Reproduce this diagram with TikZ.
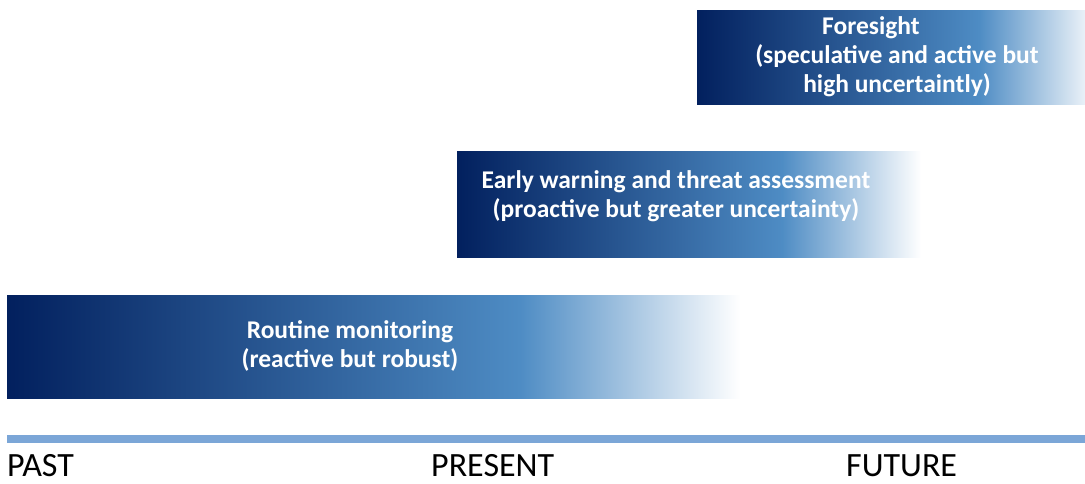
\documentclass[tikz,border=0pt]{standalone}
\usepackage{fontspec}
\setmainfont{Carlito}
\definecolor{navy}{RGB}{2,32,94}
\definecolor{steel}{RGB}{78,140,196}
\definecolor{timebar}{RGB}{123,166,215}
\pgfdeclarehorizontalshading{fade}{100bp}{color(0bp)=(navy); color(25bp)=(navy); color(60bp)=(steel); color(75bp)=(white); color(100bp)=(white)}
\tikzset{
  band/.style={rectangle, inner sep=0pt, shading=fade},
  bandtext/.style={text=white, align=center, font=\fontsize{25.5}{29}\selectfont\bfseries},
  era/.style={anchor=base west, inner sep=0pt, text depth=0pt, font=\fontsize{34}{40}\selectfont},
  timeline/.style={timebar, line width=8pt}
}
\begin{document}
\begin{tikzpicture}[x=1pt, y=-1pt]
            \useasboundingbox (0,0) rectangle (1085,483);
            % bands
            \node[band, minimum width=733pt, minimum height=103pt] (routine) at (373.5,346.5) {};
            \node[band, minimum width=464pt, minimum height=106pt] (early) at (689,204) {};
            \node[band, minimum width=403pt, minimum height=94pt] (foresight) at (898.5,57) {};

            \node[bandtext] (routinetext) at (350,346) {Routine monitoring\\(reactive but robust)};
            \node[bandtext] (earlytext) at (676,196) {Early warning and threat assessment\\(proactive but greater uncertainty)};
            \node[bandtext] (foresighttext) at (897,56.5) {Foresight\hspace*{52pt}\\(speculative and active but\\high uncertaintly)};

            % time axis
            \coordinate (tlstart) at (7,439);
            \coordinate (tlend) at (1085,439);
            \draw[timeline] (tlstart) -- (tlend);

            \node[era] (past) at (7,476) {PAST};
            \node[era] (present) at (431,476) {PRESENT};
            \node[era] (future) at (846,476) {FUTURE};
        \end{tikzpicture}
\end{document}
